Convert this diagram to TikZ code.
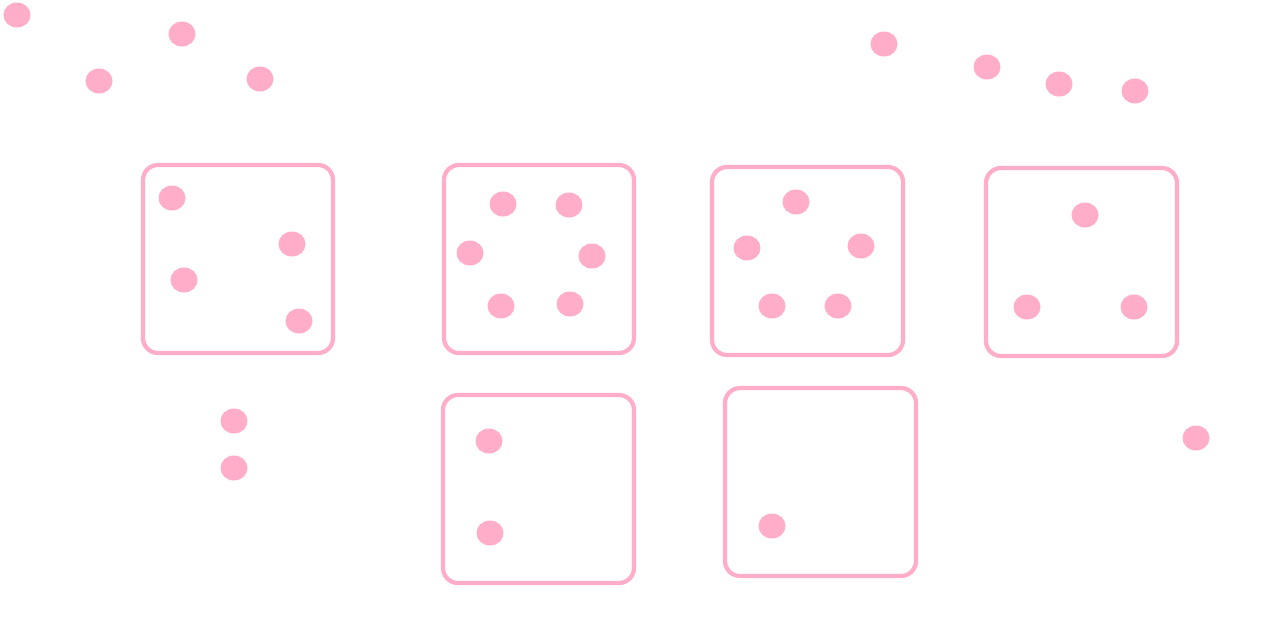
\documentclass[tikz,border=0pt]{standalone}
\definecolor{pinkc}{HTML}{FFADC8}
\tikzset{
  dot/.style={fill=pinkc, draw=none, ellipse, minimum width=27pt, minimum height=25pt, inner sep=0pt},
  die/.style={draw=pinkc, line width=4.2pt, rounded corners=15pt}
}
\usetikzlibrary{shapes.geometric}
\begin{document}
\begin{tikzpicture}[x=1pt,y=-1pt]
\useasboundingbox[fill=white] (0,0) rectangle (1283,622);
% boxes
\draw[die] (143,165) rectangle (333,353);
\draw[die] (444,165) rectangle (634,353);
\draw[die] (712,167) rectangle (903,355);
\draw[die] (986,168) rectangle (1177,356);
\draw[die] (443,395) rectangle (634,583);
\draw[die] (725,388) rectangle (916,576);
% loose dots
\foreach \x/\y [count=\i] in {17/15,182/34,99/81,260/79,884/44,987/67,1059/84,1135/91,234/421,234/468,1196/438}
  \node[dot] (f\i) at (\x,\y) {};
% box 1
\foreach \x/\y [count=\i] in {172/198,292/244,184/280,299/321}
  \node[dot] (a\i) at (\x,\y) {};
% box 2
\foreach \x/\y [count=\i] in {503/204,569/205,470/253,592/256,501/306,570/304}
  \node[dot] (b\i) at (\x,\y) {};
% box 3
\foreach \x/\y [count=\i] in {796/202,747/248,861/246,772/306,838/306}
  \node[dot] (c\i) at (\x,\y) {};
% box 4
\foreach \x/\y [count=\i] in {1085/215,1027/307,1134/307}
  \node[dot] (d\i) at (\x,\y) {};
% box 5
\foreach \x/\y [count=\i] in {489/441,490/533}
  \node[dot] (e\i) at (\x,\y) {};
% box 6
\node[dot] (g1) at (772,526) {};
\end{tikzpicture}
\end{document}
